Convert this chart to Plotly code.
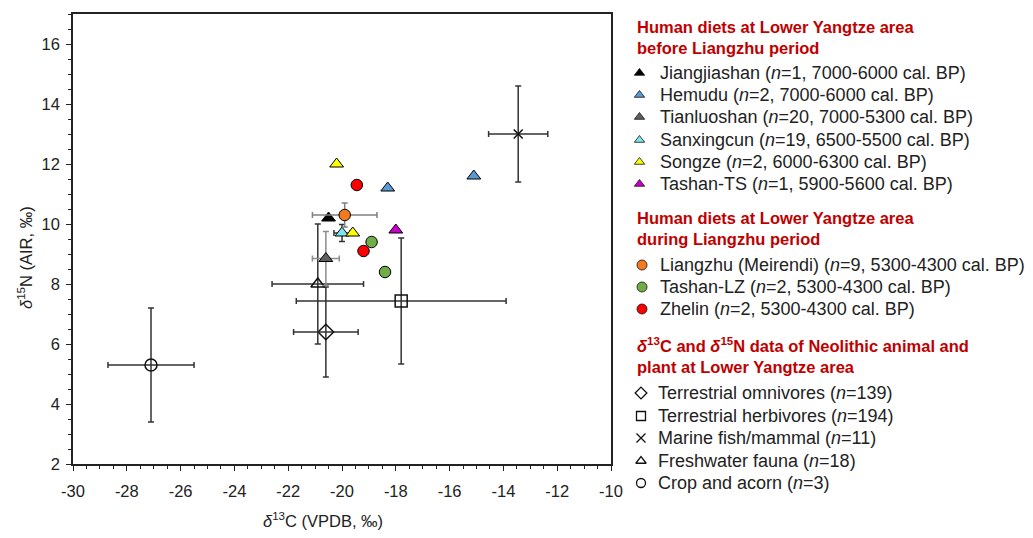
import plotly.graph_objects as go

# ---------------- data ----------------
# Human groups before Liangzhu period (triangles)
jiangjiashan_x = [-20.5]; jiangjiashan_y = [10.2]
hemudu_x = [-18.3, -15.1]; hemudu_y = [11.2, 11.6]
tianluoshan_x = [-20.6]; tianluoshan_y = [8.85]
tianluoshan_ex = [0.5]; tianluoshan_ey = [0.9]
sanxingcun_x = [-20.0]; sanxingcun_y = [9.7]
sanxingcun_ex = [0.3]; sanxingcun_ey = [0.28]
songze_x = [-20.2, -19.6]; songze_y = [12.0, 9.7]
tashants_x = [-18.0]; tashants_y = [9.8]

# Human groups during Liangzhu period (circles)
liangzhu_x = [-19.9]; liangzhu_y = [10.3]
liangzhu_ex = [1.2]; liangzhu_ey = [0.4]
tashanlz_x = [-18.9, -18.4]; tashanlz_y = [9.4, 8.4]
zhelin_x = [-19.45, -19.2]; zhelin_y = [11.3, 9.1]

# Animal and plant references (mean ± SD)
omni_x = [-20.6]; omni_y = [6.4]; omni_ex = [1.2]; omni_ey = [1.5]
herb_x = [-17.8]; herb_y = [7.43]; herb_ex = [3.9]; herb_ey = [2.1]
marine_x = [-13.45]; marine_y = [13.0]; marine_ex = [1.1]; marine_ey = [1.6]
fresh_x = [-20.9]; fresh_y = [8.0]; fresh_ex = [1.7]; fresh_ey = [2.0]
crop_x = [-27.1]; crop_y = [5.3]; crop_ex = [1.6]; crop_ey = [1.9]

x_ticks = [-30, -28, -26, -24, -22, -20, -18, -16, -14, -12, -10]
x_ticklabels = ["-30", "-28", "-26", "-24", "-22", "-20", "-18", "-16", "-14", "-12", "-10"]
y_ticks = [2, 4, 6, 8, 10, 12, 14, 16]

legend_groups = [
    ("Human diets at Lower Yangtze area<br>before Liangzhu period", [
        ("Jiangjiashan (<i>n</i>=1, 7000-6000 cal. BP)", "triangle-up", "#000000"),
        ("Hemudu (<i>n</i>=2, 7000-6000 cal. BP)", "triangle-up", "#5b9bd5"),
        ("Tianluoshan (<i>n</i>=20, 7000-5300 cal. BP)", "triangle-up", "#606060"),
        ("Sanxingcun (<i>n</i>=19, 6500-5500 cal. BP)", "triangle-up", "#7fe6f0"),
        ("Songze (<i>n</i>=2, 6000-6300 cal. BP)", "triangle-up", "#ffff00"),
        ("Tashan-TS (<i>n</i>=1, 5900-5600 cal. BP)", "triangle-up", "#cc00cc"),
    ]),
    ("Human diets at Lower Yangtze area<br>during Liangzhu period", [
        ("Liangzhu (Meirendi) (<i>n</i>=9, 5300-4300 cal. BP)", "circle", "#f47a20"),
        ("Tashan-LZ (<i>n</i>=2, 5300-4300 cal. BP)", "circle", "#70ad47"),
        ("Zhelin (<i>n</i>=2, 5300-4300 cal. BP)", "circle", "#ff0000"),
    ]),
    ("<i>δ</i><sup>13</sup>C and <i>δ</i><sup>15</sup>N data of Neolithic animal and<br>plant at Lower Yangtze area", [
        ("Terrestrial omnivores (<i>n</i>=139)", "diamond-open", "#111111"),
        ("Terrestrial herbivores (<i>n</i>=194)", "square-open", "#111111"),
        ("Marine fish/mammal (<i>n</i>=11)", "x-thin-open", "#111111"),
        ("Freshwater fauna (<i>n</i>=18)", "triangle-up-open", "#111111"),
        ("Crop and acorn (<i>n</i>=3)", "circle-open", "#111111"),
    ]),
]

FONT = "Liberation Sans, Arial, sans-serif"
RED = "#c00000"
ERR = "#333333"
TXT = "#222222"

W, H = 1033, 538
OFF = 8  # page body margin
PL, PR, PT, PB = 73, 611, 14, 464  # plot-area box in page pixels

fig = go.Figure()


def err(arr, color=ERR):
    return dict(type="data", array=arr, color=color, thickness=1.5, width=3, visible=True)


# ---- animal / plant traces (drawn first) ----
animals = [
    (omni_x, omni_y, omni_ex, omni_ey, "diamond-open", 12),
    (herb_x, herb_y, herb_ex, herb_ey, "square-open", 12),
    (marine_x, marine_y, marine_ex, marine_ey, "x-thin-open", 9),
    (fresh_x, fresh_y, fresh_ex, fresh_ey, "triangle-up-open", 12),
    (crop_x, crop_y, crop_ex, crop_ey, "circle-open", 12),
]
for ax, ay, aex, aey, sym, sz in animals:
    fig.add_trace(go.Scatter(
        x=ax, y=ay, mode="markers", showlegend=False,
        error_x=err(aex), error_y=err(aey),
        marker=dict(symbol=sym, size=sz, color="#111111", line=dict(width=1.5, color="#111111")),
    ))

# ---- human traces ----
humans = [
    (jiangjiashan_x, jiangjiashan_y, None, None, "triangle-up", "#000000", None),
    (hemudu_x, hemudu_y, None, None, "triangle-up", "#5b9bd5", None),
    (tianluoshan_x, tianluoshan_y, tianluoshan_ex, tianluoshan_ey, "triangle-up", "#606060", "#8c8c8c"),
    (sanxingcun_x, sanxingcun_y, sanxingcun_ex, sanxingcun_ey, "triangle-up", "#7fe6f0", ERR),
    (songze_x, songze_y, None, None, "triangle-up", "#ffff00", None),
    (tashants_x, tashants_y, None, None, "triangle-up", "#cc00cc", None),
    (liangzhu_x, liangzhu_y, liangzhu_ex, liangzhu_ey, "circle", "#f47a20", "#808080"),
    (tashanlz_x, tashanlz_y, None, None, "circle", "#70ad47", None),
    (zhelin_x, zhelin_y, None, None, "circle", "#ff0000", None),
]
for hx, hy, hex_, hey, sym, col, ecol in humans:
    kw = {}
    if hex_ is not None:
        kw["error_x"] = err(hex_, ecol)
        kw["error_y"] = err(hey, ecol)
    fig.add_trace(go.Scatter(
        x=hx, y=hy, mode="markers", showlegend=False,
        marker=dict(symbol=sym, size=11.5 if sym == "circle" else 12, color=col,
                    line=dict(width=1, color="#000000")),
        **kw,
    ))

# ---- hand-built legend on an overlay pixel axis (x2/y2, page pixel units) ----
title_y = [37, 228.5, 355]
item_y = [[73, 95, 117, 140, 162, 184], [265, 287, 309], [393, 416, 438, 461, 483]]
marker_x = [639.5, 642, 641]
annotations = []
for gi, (title, items) in enumerate(legend_groups):
    annotations.append(dict(
        x=635, y=title_y[gi], xref="x2", yref="y2", xanchor="left", yanchor="middle",
        text="<b>" + title + "</b>", showarrow=False, align="left",
        font=dict(size=16.5, family=FONT, color=RED),
    ))
    for ii, (name, sym, col) in enumerate(items):
        open_sym = sym.endswith("open")
        fig.add_trace(go.Scatter(
            x=[marker_x[gi]], y=[item_y[gi][ii]], xaxis="x2", yaxis="y2",
            mode="markers", showlegend=False, hoverinfo="skip",
            marker=dict(symbol=sym, size=9 if sym != "circle" else 10, color=col,
                        line=dict(width=1.3 if open_sym else 0.8, color="#111111")),
        ))
        annotations.append(dict(
            x=656 if gi == 2 else 658, y=item_y[gi][ii], xref="x2", yref="y2",
            xanchor="left", yanchor="middle", text=name, showarrow=False,
            font=dict(size=18, family=FONT, color=TXT),
        ))

# axis titles
annotations.append(dict(x=323, y=520, xref="x2", yref="y2", xanchor="center", yanchor="middle",
                        text="<i>δ</i><sup>13</sup>C (VPDB, ‰)", showarrow=False,
                        font=dict(size=16.5, family=FONT, color=TXT)))
annotations.append(dict(x=25, y=258, xref="x2", yref="y2", xanchor="center", yanchor="middle",
                        text="<i>δ</i><sup>15</sup>N (AIR, ‰)", showarrow=False, textangle=-90,
                        font=dict(size=16.5, family=FONT, color=TXT)))

axis_common = dict(
    showline=True, linecolor=TXT, linewidth=1.5, mirror=True,
    ticks="outside", ticklen=5, tickwidth=1.2, tickcolor=TXT,
    showgrid=False, zeroline=False,
    tickfont=dict(size=16.5, family=FONT, color=TXT),
    minor=dict(ticks="outside", ticklen=3, tickwidth=1, tickcolor=TXT, dtick=0.5, showgrid=False),
)
fig.update_layout(
    width=W, height=H,
    margin=dict(l=0, r=0, t=0, b=0, autoexpand=False),
    paper_bgcolor="white", plot_bgcolor="rgba(0,0,0,0)",
    font=dict(family=FONT, size=16, color=TXT),
    showlegend=False,
    xaxis=dict(domain=[(PL - OFF) / W, (PR - OFF) / W], range=[-30, -10], tickvals=x_ticks,
               ticktext=x_ticklabels, anchor="y", ticklabelstandoff=6, automargin=False, **axis_common),
    yaxis=dict(domain=[1 - (PB - OFF) / H, 1 - (PT - OFF) / H], range=[2, 17], tickvals=y_ticks,
               anchor="x", ticklabelstandoff=3, automargin=False, **axis_common),
    xaxis2=dict(domain=[0, 1], range=[OFF, W + OFF], visible=False, anchor="y2", fixedrange=True),
    yaxis2=dict(domain=[0, 1], range=[H + OFF, OFF], visible=False, anchor="x2", fixedrange=True),
    annotations=annotations,
)

fig.write_html("out.html")
